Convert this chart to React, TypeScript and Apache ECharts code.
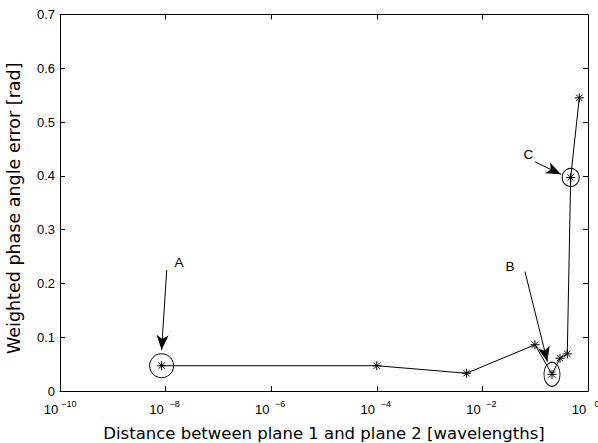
import React, { useEffect, useRef } from "react";
import * as echarts from "echarts";

// Data: distance between plane 1 and plane 2 [wavelengths] vs weighted phase angle error [rad]
const distances = [8.4e-9, 1.0e-4, 5.0e-3, 0.099, 0.208, 0.295, 0.405, 0.47, 0.684];
const errors = [0.047, 0.047, 0.033, 0.086, 0.031, 0.061, 0.069, 0.397, 0.545];

// Highlighted points (index into the arrays above) and their labels
const circledIndex = [0, 4, 7];
const circledLabels = ["A", "B", "C"];

// Annotation arrows (data units): start -> tip, and label anchor
const arrowStartX = [1.05e-8, 0.064, 0.099];
const arrowStartY = [0.225, 0.222, 0.426];
const arrowTipX = [8.4e-9, 0.17, 0.308];
const arrowTipY = [0.076, 0.0545, 0.403];
const labelX = [1.8e-8, 0.0334, 0.074];
const labelY = [0.238, 0.231, 0.439];

const yTicks = [0, 0.1, 0.2, 0.3, 0.4, 0.5, 0.6, 0.7];

const FONT = "Liberation Sans";
const TITLE_FONT = "DejaVu Sans";
const ASTERISK = "path://M5,0L5,10M0,5L10,5M1.5,1.5L8.5,8.5M1.5,8.5L8.5,1.5";

export default function App() {
  const ref = useRef<HTMLDivElement>(null);
  useEffect(() => {
    if (!ref.current) return;
    const chart = echarts.init(ref.current, undefined, { renderer: "svg" });
    const circleSizes: [number, number][] = [
      [24, 24],
      [16, 24],
      [17, 18],
    ];
    const xLabelFormatter = (v: number) => {
      const e = Math.round(Math.log10(v));
      const exp = e === 0 ? "0" : "\u2212" + Math.abs(e);
      return "{a|10}{s|" + exp + "}";
    };
    const common = {
      axisLine: { show: true, onZero: false, lineStyle: { color: "#000", width: 1 } },
      axisTick: { show: true, inside: true, length: 5, lineStyle: { color: "#000" } },
      splitLine: { show: false },
    };
    chart.setOption({
      animation: false,
      backgroundColor: "#fff",
      textStyle: { fontFamily: FONT },
      grid: { left: 60, right: 10, top: 14.5, bottom: 52, outerBoundsMode: "none", containLabel: false },
      xAxis: [
        {
          type: "log",
          logBase: 100,
          min: 1e-10,
          max: 1,
          position: "bottom",
          ...common,
          name: "Distance between plane 1 and plane 2 [wavelengths]",
          nameLocation: "middle",
          nameGap: 34,
          nameTextStyle: { fontSize: 16.5, color: "#000", fontFamily: TITLE_FONT },
          axisLabel: {
            color: "#000",
            margin: 6,
            formatter: xLabelFormatter,
            rich: {
              a: { fontSize: 13, fontFamily: FONT, color: "#000", width: 18, align: "right", verticalAlign: "bottom", padding: [6, 0, 0, 0] },
              s: { fontSize: 9, fontFamily: FONT, color: "#000", width: 18, align: "left", verticalAlign: "bottom", padding: [0, 0, 8, 0] },
            },
          },
        },
        {
          type: "log",
          logBase: 100,
          min: 1e-10,
          max: 1,
          position: "top",
          ...common,
          axisLabel: { show: false },
        },
      ],
      yAxis: [
        {
          type: "value",
          min: 0,
          max: 0.7,
          interval: 0.1,
          position: "left",
          ...common,
          name: "Weighted phase angle error [rad]",
          nameLocation: "middle",
          nameGap: 37,
          nameTextStyle: { fontSize: 17.5, color: "#000", fontFamily: TITLE_FONT, padding: [0, 11, 0, 0] },
          axisLabel: {
            color: "#000",
            fontSize: 13,
            fontFamily: FONT,
            margin: 5,
            formatter: (v: number) => {
              const t = yTicks.find((y) => Math.abs(y - v) < 1e-9);
              return t === undefined ? "" : t === 0 ? "0" : t.toFixed(1);
            },
          },
        },
        {
          type: "value",
          min: 0,
          max: 0.7,
          interval: 0.1,
          position: "right",
          ...common,
          axisLabel: { show: false },
        },
      ],
      series: [
        {
          type: "line",
          data: distances.map((d, i) => [d, errors[i]]),
          symbol: ASTERISK,
          symbolSize: 9,
          showSymbol: true,
          lineStyle: { color: "#000", width: 1 },
          itemStyle: { color: "transparent", borderColor: "#000", borderWidth: 1 },
          emphasis: { disabled: true },
          silent: true,
          z: 3,
          markLine: {
            silent: true,
            animation: false,
            symbol: ["none", "arrow"],
            symbolSize: [9, 15],
            label: { show: false },
            lineStyle: { color: "#000", width: 1, type: "solid" },
            emphasis: { disabled: true },
            data: arrowStartX.map((x, i) => [
              { coord: [x, arrowStartY[i]], symbol: "none" },
              { coord: [arrowTipX[i], arrowTipY[i]], symbol: "arrow" },
            ]),
          },
        },
        {
          type: "scatter",
          data: circledIndex.map((idx, i) => ({
            value: [distances[idx], errors[idx]],
            symbolSize: circleSizes[i],
          })),
          symbol: "circle",
          itemStyle: { color: "transparent", borderColor: "#000", borderWidth: 1, opacity: 1 },
          silent: true,
          z: 4,
        },
        {
          type: "scatter",
          data: circledLabels.map((name, i) => ({ name, value: [labelX[i], labelY[i]] })),
          symbolSize: 0,
          silent: true,
          itemStyle: { opacity: 1 },
          label: {
            show: true,
            position: "inside",
            formatter: (p: any) => p.name,
            color: "#000",
            fontSize: 13.5,
            fontFamily: FONT,
          },
          z: 5,
        },
      ],
    });
    return () => chart.dispose();
  }, []);
  return <div ref={ref} style={{ width: 598, height: 443, position: "absolute", left: 0, top: 0 }} />;
}
